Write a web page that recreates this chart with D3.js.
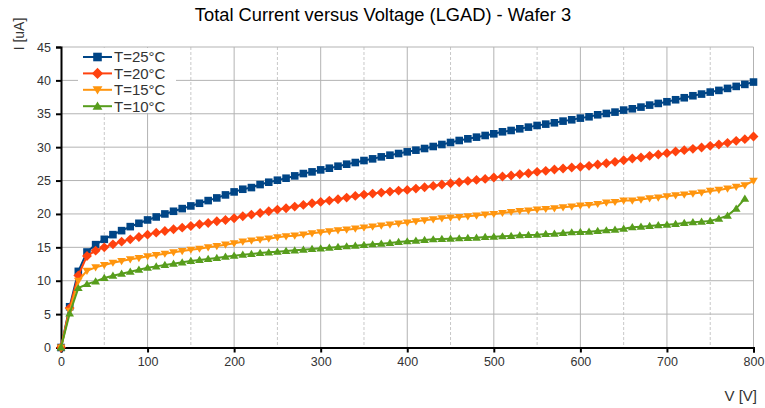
<!DOCTYPE html>
<html>
<head>
<meta charset="utf-8">
<script src="https://cdn.jsdelivr.net/npm/d3@7"></script>
<style>
  body { margin: 0; background: #fff; }
  svg { display: block; font-family: "Liberation Sans", Arial, sans-serif; }
</style>
</head>
<body>
<div id="chart"></div>
<script>
// voltage steps [V]
var volts = [0, 10, 20, 30, 40, 50, 60, 70, 80, 90, 100, 110, 120, 130, 140, 150, 160, 170, 180, 190,
  200, 210, 220, 230, 240, 250, 260, 270, 280, 290, 300, 310, 320, 330, 340, 350, 360, 370, 380, 390,
  400, 410, 420, 430, 440, 450, 460, 470, 480, 490, 500, 510, 520, 530, 540, 550, 560, 570, 580, 590,
  600, 610, 620, 630, 640, 650, 660, 670, 680, 690, 700, 710, 720, 730, 740, 750, 760, 770, 780, 790, 800];

// current [uA] per temperature
var t25 = [0, 6.1, 11.4, 14.3, 15.4, 16.2, 16.9, 17.5, 18.1, 18.6, 19.1, 19.55, 20.0, 20.4, 20.8, 21.2, 21.6, 22.0, 22.4, 22.85,
  23.3, 23.7, 23.95, 24.4, 24.75, 25.05, 25.35, 25.7, 26.05, 26.3, 26.6, 26.85, 27.15, 27.45, 27.7, 28.0, 28.25, 28.55, 28.8, 29.05,
  29.3, 29.55, 29.8, 30.1, 30.4, 30.7, 31.0, 31.25, 31.5, 31.75, 32.0, 32.3, 32.5, 32.75, 33.0, 33.25, 33.45, 33.65, 33.9, 34.1,
  34.35, 34.55, 34.85, 35.05, 35.25, 35.55, 35.75, 36.0, 36.3, 36.55, 36.8, 37.1, 37.4, 37.7, 37.95, 38.25, 38.5, 38.8, 39.1, 39.4, 39.75];
var t20 = [0, 5.9, 10.8, 13.7, 14.5, 15.0, 15.45, 15.85, 16.2, 16.55, 16.9, 17.2, 17.45, 17.7, 17.95, 18.2, 18.45, 18.65, 18.9, 19.1,
  19.35, 19.65, 19.9, 20.15, 20.4, 20.65, 20.85, 21.1, 21.35, 21.6, 21.8, 22.0, 22.2, 22.45, 22.7, 22.9, 23.05, 23.2, 23.35, 23.5,
  23.6, 23.8, 24.0, 24.2, 24.4, 24.6, 24.75, 24.95, 25.1, 25.25, 25.45, 25.6, 25.75, 25.95, 26.1, 26.3, 26.45, 26.65, 26.8, 26.95,
  27.05, 27.2, 27.4, 27.6, 27.8, 28.05, 28.3, 28.45, 28.7, 28.9, 29.1, 29.35, 29.55, 29.75, 29.95, 30.2, 30.4, 30.65, 30.95, 31.2, 31.6];
var t15 = [0, 5.5, 10.0, 11.5, 12.0, 12.35, 12.7, 12.95, 13.2, 13.4, 13.65, 13.85, 14.05, 14.25, 14.45, 14.65, 14.8, 15.0, 15.2, 15.4,
  15.6, 15.85, 16.0, 16.15, 16.3, 16.5, 16.65, 16.75, 16.9, 17.1, 17.25, 17.4, 17.55, 17.65, 17.8, 17.95, 18.1, 18.25, 18.4, 18.55,
  18.7, 18.9, 19.05, 19.2, 19.35, 19.45, 19.55, 19.65, 19.75, 19.9, 20.0, 20.15, 20.3, 20.45, 20.5, 20.65, 20.75, 20.85, 21.0, 21.1,
  21.25, 21.35, 21.5, 21.7, 21.8, 22.0, 22.0, 22.15, 22.35, 22.45, 22.65, 22.8, 22.9, 23.05, 23.2, 23.45, 23.6, 23.8, 24.05, 24.3, 24.95];
var t10 = [0, 5.1, 8.9, 9.5, 9.9, 10.4, 10.75, 11.05, 11.35, 11.65, 11.95, 12.15, 12.35, 12.55, 12.75, 12.95, 13.1, 13.25, 13.4, 13.6,
  13.75, 13.9, 14.0, 14.15, 14.25, 14.35, 14.45, 14.55, 14.65, 14.75, 14.85, 14.95, 15.05, 15.15, 15.25, 15.35, 15.45, 15.55, 15.65, 15.8,
  15.9, 16.0, 16.1, 16.2, 16.25, 16.3, 16.35, 16.4, 16.45, 16.55, 16.6, 16.65, 16.7, 16.8, 16.85, 16.9, 17.0, 17.05, 17.15, 17.25,
  17.3, 17.35, 17.45, 17.55, 17.65, 17.8, 18.0, 18.1, 18.2, 18.3, 18.4, 18.5, 18.65, 18.75, 18.85, 18.95, 19.3, 19.75, 20.8, 22.3];

var seriesNames = ["T=25°C", "T=20°C", "T=15°C", "T=10°C"];
var seriesColors = ["#004586", "#ff420e", "#ff950e", "#579d1c"];
var xTicks = [0, 100, 200, 300, 400, 500, 600, 700, 800];
var xMinor = [50, 150, 250, 350, 450, 550, 650, 750];
var yTicks = [0, 5, 10, 15, 20, 25, 30, 35, 40, 45];

var series = [t25, t20, t15, t10].map(function(vals, i) {
  return { name: seriesNames[i], color: seriesColors[i], shape: i,
           pts: vals.map(function(v, j) { return { v: volts[j], i: v }; }) };
});

var W = 765, H = 408;
var margin = {top: 47, right: 11.5, bottom: 60.5, left: 61},
    width = W - margin.left - margin.right,
    height = H - margin.top - margin.bottom;

var svg = d3.select("#chart").append("svg")
    .attr("width", W).attr("height", H);

var g = svg.append("g")
    .attr("transform", "translate(" + margin.left + "," + margin.top + ")");

var x = d3.scaleLinear().domain([0, 800]).range([0, width]);
var y = d3.scaleLinear().domain([0, 45]).range([height, 0]);

// marker shapes: square, diamond, down triangle, up triangle
function marker(shape, r) {
  if (shape == 0) return "M" + (-r) + "," + (-r) + "h" + 2*r + "v" + 2*r + "h" + (-2*r) + "Z";
  if (shape == 1) { var d = r * 1.3; return "M0," + (-d) + "L" + d + ",0L0," + d + "L" + (-d) + ",0Z"; }
  if (shape == 2) return "M" + (-r*1.15) + "," + (-r*0.8) + "L" + (r*1.15) + "," + (-r*0.8) + "L0," + (r*1.1) + "Z";
  return "M" + (-r*1.15) + "," + (r*0.8) + "L" + (r*1.15) + "," + (r*0.8) + "L0," + (-r*1.1) + "Z";
}

// grid
g.append("g").selectAll("line").data(xMinor).enter().append("line")
  .attr("x1", function(d) { return x(d); }).attr("x2", function(d) { return x(d); })
  .attr("y1", 0).attr("y2", height)
  .attr("stroke", "#c8c8c8").attr("stroke-width", 1).attr("stroke-dasharray", "3,2");
g.append("g").selectAll("line").data(xTicks.slice(1)).enter().append("line")
  .attr("x1", function(d) { return x(d); }).attr("x2", function(d) { return x(d); })
  .attr("y1", 0).attr("y2", height)
  .attr("stroke", "#b3b3b3").attr("stroke-width", 1);
g.append("g").selectAll("line").data(yTicks.slice(1)).enter().append("line")
  .attr("x1", 0).attr("x2", width)
  .attr("y1", function(d) { return y(d); }).attr("y2", function(d) { return y(d); })
  .attr("stroke", "#b3b3b3").attr("stroke-width", 1);

// legend box (covers grid)
var legend = g.append("g").attr("transform", "translate(17,0)");
legend.append("rect").attr("x", 0).attr("y", 1).attr("width", 98).attr("height", 65)
  .attr("fill", "#fff");

// axes
var xAxis = g.append("g").attr("transform", "translate(0," + height + ")")
  .call(d3.axisBottom(x).tickValues(xTicks).tickSize(5).tickPadding(5));
var yAxis = g.append("g")
  .call(d3.axisLeft(y).tickValues(yTicks).tickSize(5).tickPadding(5));
[xAxis, yAxis].forEach(function(a) {
  a.select(".domain").attr("stroke", "#000").attr("stroke-width", 2);
  a.selectAll(".tick line").attr("stroke", "#000").attr("stroke-width", 2);
  a.selectAll("text").attr("fill", "#333").style("font-size", "12.5px")
    .style("font-family", "'Liberation Sans', Arial, sans-serif");
});

// series
var line = d3.line().x(function(d) { return x(d.v); }).y(function(d) { return y(d.i); });
series.forEach(function(s) {
  var sg = g.append("g");
  sg.append("path").datum(s.pts).attr("d", line)
    .attr("fill", "none").attr("stroke", s.color).attr("stroke-width", 2);
  sg.selectAll("path.m").data(s.pts).enter().append("path").attr("class", "m")
    .attr("transform", function(d) { return "translate(" + x(d.v) + "," + y(d.i) + ")"; })
    .attr("d", marker(s.shape, 3.8))
    .attr("fill", s.color);
});

// legend entries
series.forEach(function(s, i) {
  var row = legend.append("g").attr("transform", "translate(0," + (10 + i * 16.4) + ")");
  row.append("line").attr("x1", 5).attr("x2", 34).attr("y1", 0).attr("y2", 0)
    .attr("stroke", s.color).attr("stroke-width", 2);
  row.append("path").attr("transform", "translate(19.5,0)").attr("d", marker(s.shape, 4.3))
    .attr("fill", s.color);
  row.append("text").attr("x", 36).attr("y", 5.3).text(s.name)
    .attr("fill", "#333").style("font-size", "15px");
});

// titles
svg.append("text").attr("x", 383).attr("y", 21).attr("text-anchor", "middle")
  .style("font-size", "18.3px").attr("fill", "#000")
  .text("Total Current versus Voltage (LGAD) - Wafer 3");
svg.append("text").attr("transform", "translate(24,34) rotate(-90)")
  .attr("text-anchor", "middle").style("font-size", "14px").attr("fill", "#333")
  .text("I [uA]");
svg.append("text").attr("x", 757).attr("y", 401).attr("text-anchor", "end")
  .style("font-size", "15px").attr("fill", "#333")
  .text("V [V]");
</script>
</body>
</html>
